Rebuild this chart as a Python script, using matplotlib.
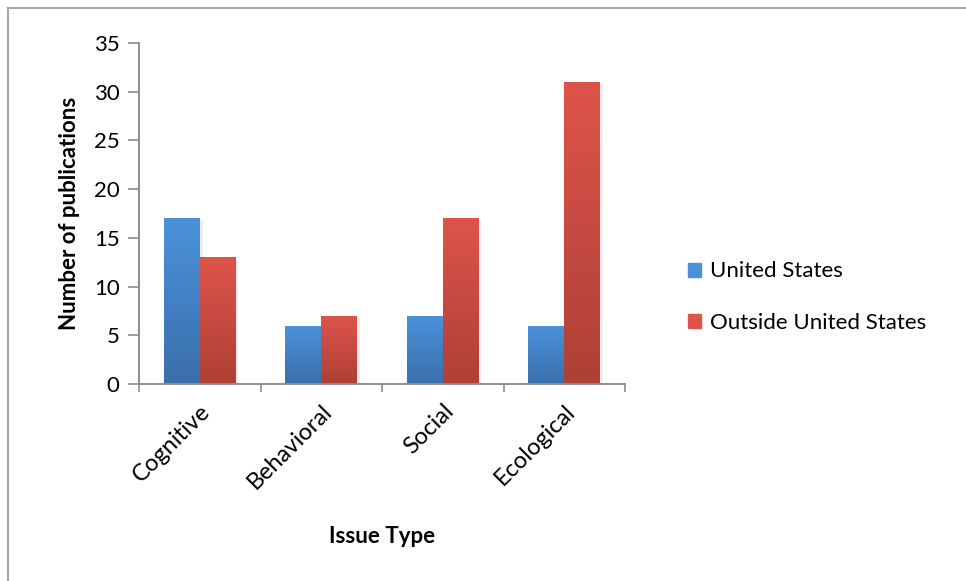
import numpy as np
import matplotlib.pyplot as plt
import matplotlib.patheffects as pe
from matplotlib.colors import LinearSegmentedColormap
from matplotlib.lines import Line2D

plt.rcParams['font.family'] = ['Lato', 'DejaVu Sans']

categories = ['Cognitive', 'Behavioral', 'Social', 'Ecological']
us_counts = [17, 6, 7, 6]
outside_counts = [13, 7, 17, 31]
series_names = ['United States', 'Outside United States']
yticks = [0, 5, 10, 15, 20, 25, 30, 35]

# top / bottom colours of the gradient fill for each series
grad_us = ('#4b92db', '#3a6fab')
grad_out = ('#de544a', '#ae4036')

fs = 16

fig = plt.figure(figsize=(9.66, 5.81), dpi=100)
ax = fig.add_axes([139/966, 1 - 384/581, (625-139)/966, (384-43)/581])

# chart frame
fig.add_artist(Line2D([8/966, 8/966], [0, 1 - 8/581], color='#a6a6a6', lw=1.5))
fig.add_artist(Line2D([8/966, 1], [1 - 8/581, 1 - 8/581], color='#a6a6a6', lw=1.5))

x = np.arange(len(categories))
w = 0.295

def gradient_bars(xs, vals, cols):
    bars = ax.bar(xs, vals, w, color=cols[1], zorder=2,
                  path_effects=[pe.SimplePatchShadow(offset=(2, -1), shadow_rgbFace='#000000', alpha=0.07),
                                pe.Normal()])
    cmap = LinearSegmentedColormap.from_list('g', [cols[1], cols[0]])
    grad = np.linspace(0, 1, 256).reshape(-1, 1)
    for b in bars:
        x0, y0 = b.get_x(), b.get_y()
        im = ax.imshow(grad, cmap=cmap, origin='lower', aspect='auto',
                       extent=[x0, x0 + b.get_width(), y0, y0 + b.get_height()], zorder=3)
        im.set_clip_path(b)
    return bars

gradient_bars(x - w/2, us_counts, grad_us)
gradient_bars(x + w/2, outside_counts, grad_out)

ax.set_xlim(-0.5, len(categories) - 0.5)
ax.set_ylim(0, 35)
ax.set_yticks(yticks)
ax.set_xticks(np.arange(len(categories) + 1) - 0.5, minor=False)
ax.set_xticklabels([])
ax.set_xticks(x, minor=True)
ax.set_xticklabels(categories, minor=True, rotation=45, ha='right', rotation_mode='anchor', fontsize=17)
ax.tick_params(axis='x', which='minor', length=0, pad=12)
ax.tick_params(axis='x', which='major', length=6, width=1.2, color='#8c8c8c')
ax.tick_params(axis='y', length=8, width=1.2, color='#8c8c8c', labelsize=fs, pad=6)

for s in ['top', 'right']:
    ax.spines[s].set_visible(False)
for s in ['left', 'bottom']:
    ax.spines[s].set_color('#8c8c8c')
    ax.spines[s].set_linewidth(1.4)
    ax.spines[s].set_zorder(4)

ax.set_ylabel('Number of publications', fontsize=fs, fontweight='bold', labelpad=10)
ax.set_xlabel('Issue Type', fontsize=fs, fontweight='bold', labelpad=24)

handles = [plt.Rectangle((0, 0), 1, 1, color=grad_us[0]), plt.Rectangle((0, 0), 1, 1, color=grad_out[0])]
fig.legend(handles, series_names, loc='center left', bbox_to_anchor=(668/966, 1 - 297/581),
           frameon=False, fontsize=fs, handlelength=0.6, handleheight=0.6,
           handletextpad=0.4, labelspacing=1.4)

fig.savefig('out.png', dpi=100, facecolor='white')
